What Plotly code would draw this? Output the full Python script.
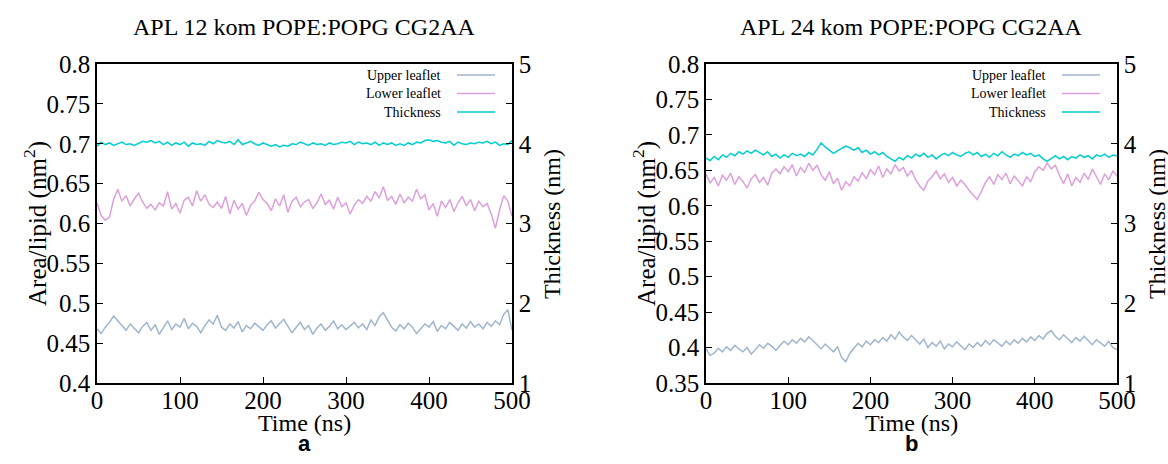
import plotly.graph_objects as go

# ---------------- data ----------------
time_ns = list(range(0, 501, 5))

a_upper = [0.468,0.462,0.470,0.476,0.484,0.478,0.472,0.466,0.474,0.469,0.463,0.471,0.476,0.466,0.473,0.461,0.470,0.478,0.467,0.474,
           0.470,0.481,0.468,0.475,0.471,0.463,0.472,0.479,0.474,0.485,0.470,0.466,0.474,0.469,0.477,0.464,0.472,0.468,0.475,0.470,
           0.466,0.473,0.478,0.469,0.474,0.480,0.471,0.463,0.470,0.476,0.467,0.472,0.461,0.469,0.474,0.466,0.471,0.478,0.468,0.473,
           0.467,0.471,0.476,0.469,0.474,0.467,0.479,0.472,0.483,0.488,0.478,0.470,0.465,0.473,0.468,0.475,0.470,0.462,0.468,0.474,
           0.470,0.477,0.465,0.472,0.468,0.476,0.471,0.466,0.474,0.469,0.477,0.470,0.474,0.468,0.476,0.471,0.478,0.473,0.486,0.492,0.466]
a_lower = [0.626,0.610,0.604,0.608,0.630,0.643,0.628,0.635,0.622,0.631,0.638,0.627,0.619,0.624,0.617,0.626,0.622,0.640,0.618,0.625,
           0.613,0.629,0.633,0.622,0.641,0.628,0.636,0.624,0.620,0.627,0.619,0.634,0.612,0.629,0.618,0.625,0.610,0.623,0.628,0.639,
           0.630,0.625,0.616,0.631,0.622,0.636,0.614,0.628,0.633,0.621,0.627,0.630,0.619,0.626,0.637,0.624,0.629,0.618,0.633,0.621,
           0.626,0.612,0.623,0.630,0.625,0.634,0.628,0.640,0.632,0.646,0.629,0.634,0.624,0.637,0.626,0.633,0.628,0.643,0.631,0.636,
           0.617,0.625,0.609,0.628,0.620,0.630,0.615,0.626,0.634,0.622,0.630,0.616,0.628,0.621,0.625,0.612,0.594,0.617,0.635,0.628,0.609]
a_thick = [3.97,4.02,3.99,4.01,3.98,4.00,4.02,3.99,4.00,3.98,4.01,4.03,4.02,4.04,4.01,4.03,3.99,4.02,3.98,4.01,
           3.99,4.02,3.97,4.01,3.99,4.00,3.98,4.03,4.00,4.04,4.02,4.01,4.03,3.99,4.05,3.99,4.01,4.03,4.00,3.98,
           4.01,3.99,3.97,3.99,3.96,3.98,3.97,4.00,3.99,4.02,4.00,3.98,4.01,3.99,4.00,3.98,4.01,3.99,4.00,4.02,
           4.01,4.03,3.99,4.02,4.00,4.01,3.99,4.02,3.98,4.01,3.99,4.01,3.98,4.00,3.98,4.01,3.99,4.02,4.01,4.04,
           4.05,4.03,4.04,4.02,4.01,4.03,3.98,4.02,4.00,3.99,4.01,4.00,4.02,4.01,4.03,4.00,4.02,3.98,4.00,3.99,4.04]

b_upper = [0.398,0.389,0.392,0.399,0.394,0.401,0.396,0.403,0.398,0.394,0.400,0.391,0.397,0.404,0.399,0.406,0.402,0.396,0.403,0.409,
           0.404,0.411,0.406,0.413,0.408,0.415,0.410,0.404,0.398,0.405,0.400,0.394,0.401,0.386,0.380,0.392,0.399,0.406,0.401,0.409,
           0.404,0.411,0.407,0.414,0.409,0.418,0.412,0.422,0.415,0.410,0.417,0.411,0.405,0.412,0.400,0.407,0.402,0.409,0.398,0.405,
           0.401,0.408,0.403,0.397,0.405,0.400,0.407,0.402,0.410,0.404,0.411,0.406,0.402,0.409,0.404,0.411,0.406,0.413,0.408,0.415,
           0.410,0.417,0.412,0.420,0.424,0.416,0.411,0.418,0.412,0.407,0.414,0.409,0.416,0.410,0.404,0.411,0.406,0.402,0.409,0.400,0.397]
b_lower = [0.645,0.632,0.640,0.628,0.643,0.636,0.646,0.630,0.641,0.634,0.625,0.638,0.644,0.633,0.640,0.629,0.646,0.652,0.645,0.655,
           0.648,0.658,0.642,0.654,0.647,0.660,0.650,0.657,0.644,0.636,0.648,0.631,0.639,0.622,0.634,0.628,0.641,0.635,0.647,0.638,
           0.651,0.644,0.656,0.640,0.652,0.645,0.658,0.649,0.654,0.642,0.650,0.637,0.628,0.622,0.635,0.641,0.649,0.638,0.645,0.633,
           0.640,0.628,0.636,0.630,0.622,0.616,0.609,0.620,0.633,0.641,0.630,0.644,0.637,0.646,0.631,0.642,0.635,0.628,0.641,0.634,
           0.648,0.655,0.650,0.660,0.652,0.657,0.643,0.631,0.645,0.628,0.640,0.633,0.646,0.637,0.652,0.641,0.630,0.645,0.637,0.649,0.642]
b_thick = [3.82,3.79,3.84,3.80,3.86,3.83,3.88,3.85,3.90,3.87,3.91,3.88,3.92,3.89,3.86,3.90,3.84,3.87,3.82,3.86,
           3.83,3.88,3.85,3.87,3.84,3.89,3.86,3.93,4.01,3.96,3.92,3.88,3.91,3.94,3.97,3.95,3.92,3.95,3.89,3.92,
           3.87,3.90,3.86,3.89,3.84,3.81,3.78,3.83,3.80,3.85,3.82,3.87,3.84,3.88,3.83,3.86,3.81,3.85,3.88,3.85,
           3.89,3.86,3.84,3.88,3.90,3.86,3.89,3.84,3.87,3.83,3.88,3.85,3.90,3.86,3.83,3.87,3.85,3.89,3.86,3.88,
           3.84,3.86,3.81,3.78,3.82,3.85,3.81,3.84,3.80,3.84,3.82,3.86,3.83,3.85,3.81,3.86,3.84,3.87,3.83,3.86,3.85]

titles = ["APL 12 kom POPE:POPG CG2AA", "APL 24 kom POPE:POPG CG2AA"]
panel_labels = ["a", "b"]
series_names = ["Upper leaflet", "Lower leaflet", "Thickness"]
x_ticks = [0, 100, 200, 300, 400, 500]
a_yticks = [0.4, 0.45, 0.5, 0.55, 0.6, 0.65, 0.7, 0.75, 0.8]
b_yticks = [0.35, 0.4, 0.45, 0.5, 0.55, 0.6, 0.65, 0.7, 0.75, 0.8]
thick_ticks = [1, 1.5, 2, 2.5, 3, 3.5, 4, 4.5, 5]

# ---------------- style ----------------
W, H = 1168, 464
C_UP, C_LO, C_TH = "#a0b6cd", "#dda0dd", "#00ced1"
SERIF = "Liberation Serif, Times New Roman, serif"
px = lambda v: v / W
py = lambda v: 1 - v / H

dom_a = [px(97), px(512)]
dom_b = [px(706), px(1117)]
dom_y = [py(383), py(64)]

fig = go.Figure()

def add_panel(xa, ya, ya2, up, lo, th):
    fig.add_trace(go.Scatter(x=time_ns, y=up, mode="lines", line=dict(color=C_UP, width=1.5),
                             xaxis=xa, yaxis=ya, showlegend=False))
    fig.add_trace(go.Scatter(x=time_ns, y=lo, mode="lines", line=dict(color=C_LO, width=1.5),
                             xaxis=xa, yaxis=ya, showlegend=False))
    fig.add_trace(go.Scatter(x=time_ns, y=th, mode="lines", line=dict(color=C_TH, width=1.5),
                             xaxis=xa, yaxis=ya2, showlegend=False))

add_panel("x", "y", "y2", a_upper, a_lower, a_thick)
add_panel("x2", "y3", "y4", b_upper, b_lower, b_thick)

tickfont = dict(family=SERIF, size=25, color="black")
common_x = dict(range=[0, 500], tickvals=x_ticks, ticks="inside", ticklen=6, tickwidth=1.3,
                tickcolor="black", showline=True, linecolor="black", linewidth=1.5, mirror=True,
                showgrid=False, zeroline=False, tickfont=tickfont, automargin=False,
                ticklabelstandoff=-6)
common_y = dict(ticks="inside", ticklen=6, tickwidth=1.3, tickcolor="black", showline=True,
                linecolor="black", linewidth=1.5, showgrid=False, zeroline=False, tickfont=tickfont,
                automargin=False)
thick_text = [str(int(v)) if v == int(v) else "" for v in thick_ticks]

fig.update_layout(
    template="none",
    width=W, height=H, margin=dict(l=0, r=0, t=0, b=0, pad=0), autosize=False,
    paper_bgcolor="white", plot_bgcolor="white", showlegend=False,
    xaxis=dict(domain=dom_a, anchor="y", **common_x),
    yaxis=dict(domain=dom_y, anchor="x", range=[0.4, 0.8], tickvals=a_yticks,
               ticktext=[f"{v:g}" for v in a_yticks], **common_y),
    yaxis2=dict(overlaying="y", anchor="x", side="right", range=[1, 5], tickvals=thick_ticks,
                ticktext=thick_text, **common_y),
    xaxis2=dict(domain=dom_b, anchor="y3", **common_x),
    yaxis3=dict(domain=dom_y, anchor="x2", range=[0.35, 0.8], tickvals=b_yticks,
                ticktext=[f"{v:g}" for v in b_yticks], **common_y),
    yaxis4=dict(overlaying="y3", anchor="x2", side="right", range=[1, 5], tickvals=thick_ticks,
                ticktext=thick_text, **common_y),
)

annotations = []
shapes = []
for i, (x0, x1) in enumerate([(97, 512), (706, 1117)]):
    cx = (x0 + x1) / 2
    annotations.append(dict(x=px(cx), y=py(27), xref="paper", yref="paper", text=titles[i],
                            showarrow=False, font=dict(family=SERIF, size=24, color="black"),
                            xanchor="center", yanchor="middle"))
    annotations.append(dict(x=px(cx), y=py(423), xref="paper", yref="paper", text="Time (ns)",
                            showarrow=False, font=dict(family=SERIF, size=24, color="black"),
                            xanchor="center", yanchor="middle"))
    annotations.append(dict(x=px(cx), y=py(443), xref="paper", yref="paper",
                            text="<b>" + panel_labels[i] + "</b>", showarrow=False,
                            font=dict(family="Liberation Sans, Arial, sans-serif", size=22, color="black"),
                            xanchor="center", yanchor="middle"))
    annotations.append(dict(x=px(x0 - 62), y=py(224), xref="paper", yref="paper",
                            text="Area/lipid (nm<sup>2</sup>)", textangle=-90, showarrow=False,
                            font=dict(family=SERIF, size=25, color="black"),
                            xanchor="center", yanchor="middle"))
    annotations.append(dict(x=px(x1 + 40), y=py(224), xref="paper", yref="paper",
                            text="Thickness (nm)", textangle=-90, showarrow=False,
                            font=dict(family=SERIF, size=24, color="black"),
                            xanchor="center", yanchor="middle"))
    # legend (text right-aligned, sample line to the right)
    for j, (name, col) in enumerate(zip(series_names, [C_UP, C_LO, C_TH])):
        ly = 75 + j * 18.5
        annotations.append(dict(x=px(x1 - 69), y=py(ly), xref="paper", yref="paper", text=name,
                                showarrow=False, font=dict(family=SERIF, size=14, color="black"),
                                xanchor="right", yanchor="middle"))
        shapes.append(dict(type="line", xref="paper", yref="paper", x0=px(x1 - 55), x1=px(x1 - 17),
                           y0=py(ly), y1=py(ly), line=dict(color=col, width=1.6)))

fig.update_layout(annotations=annotations, shapes=shapes)
fig.write_html("out.html", config={"displayModeBar": False},
               post_script="document.body.style.margin='0';document.body.style.overflow='hidden';")
